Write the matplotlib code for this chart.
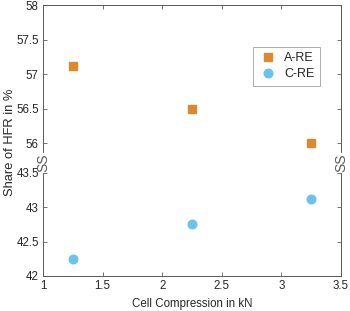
import matplotlib
matplotlib.use("Agg")
import matplotlib.pyplot as plt

plt.rcParams['font.family'] = ['Liberation Sans', 'DejaVu Sans']

compression = [1.25, 2.25, 3.25]
share_a = [57.12, 56.49, 56.01]
share_c = [42.24, 42.75, 43.12]
xticks = [1, 1.5, 2, 2.5, 3, 3.5]
yticks_top = [56, 56.5, 57, 57.5, 58]
yticks_bot = [42, 42.5, 43, 43.5]

orange = '#DA8A2E'
blue = '#6CC3EA'
axcol = '#5a5a5a'
txtcol = '#262626'

fig = plt.figure(figsize=(3.5, 3.11), dpi=100)
W, H = 350.0, 311.0
left, right = 43 / W, 341 / W
ax_top = fig.add_axes([left, 1 - 152 / H, right - left, (152 - 5.3) / H])
ax_bot = fig.add_axes([left, 1 - 276 / H, right - left, (276 - 172.7) / H])

ax_top.plot(compression, share_a, 's', color=orange, markersize=5.2, label='A-RE')
ax_bot.plot(compression, share_c, 'o', color=blue, markersize=6.2, label='C-RE')
# dummy entry so both series sit in one legend
ax_top.plot([], [], 'o', color=blue, markersize=6.2, label='C-RE')

ax_top.set_ylim(55.874, 58)
ax_bot.set_ylim(42, 43.5)
for ax in (ax_top, ax_bot):
    ax.set_xlim(1, 3.5)
    ax.set_xticks(xticks)
    for s in ax.spines.values():
        s.set_color(axcol)
        s.set_linewidth(0.7)
    ax.tick_params(direction='in', length=3, width=0.6, color=axcol,
                   labelsize=8.3, labelcolor=txtcol, pad=3)

ax_top.set_yticks(yticks_top)
ax_top.set_yticklabels(['56', '56.5', '57', '57.5', '58'])
ax_top.spines['bottom'].set_visible(False)
ax_top.tick_params(axis='x', bottom=False, labelbottom=False, top=True)
ax_top.tick_params(axis='y', right=True)

ax_bot.set_yticks(yticks_bot)
ax_bot.set_yticklabels(['42', '42.5', '43', '43.5'])
ax_bot.spines['top'].set_visible(False)
ax_bot.tick_params(axis='y', right=True)
ax_bot.set_xticklabels(['1', '1.5', '2', '2.5', '3', '3.5'])
ax_bot.set_xlabel('Cell Compression in kN', fontsize=8.3, color=txtcol, labelpad=4)

fig.text(10 / W, 1 - 142.5 / H, 'Share of HFR in %', rotation=90,
         ha='center', va='center', fontsize=9.3, color=txtcol)

# break marks
for xb in (43, 341):
    fig.text(xb / W, 1 - 163 / H, 'SS', rotation=90, ha='center',
             va='center', fontsize=10, color=axcol)

leg = ax_top.legend(loc='upper left', bbox_to_anchor=(252.7 / W, 1 - 46.7 / H),
                    bbox_transform=fig.transFigure, fontsize=9, frameon=True,
                    fancybox=False, handlelength=1.6, handletextpad=0.48,
                    borderpad=0.45, labelspacing=0.3, borderaxespad=0)
leg.get_frame().set_edgecolor('#999999')
leg.get_frame().set_linewidth(0.7)
for t in leg.get_texts():
    t.set_color(txtcol)

fig.savefig('out.png', dpi=100)
